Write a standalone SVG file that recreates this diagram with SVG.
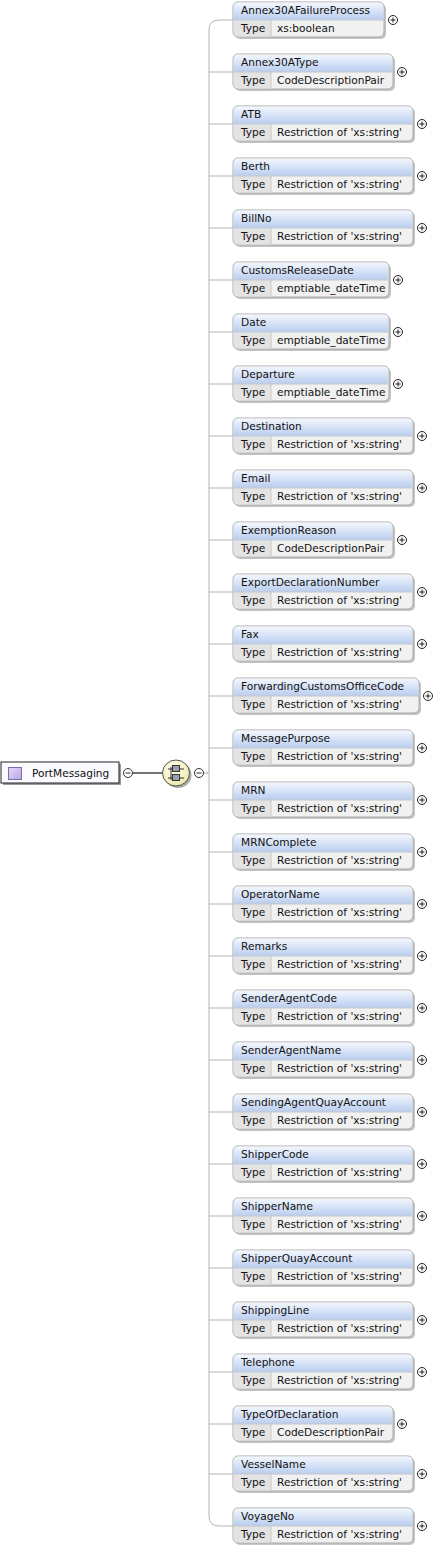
<svg xmlns="http://www.w3.org/2000/svg" width="435" height="1552" viewBox="0 0 435 1552">
<defs>
<linearGradient id="hdr" x1="0" y1="0" x2="0" y2="1">
<stop offset="0" stop-color="#f3f7fd"/>
<stop offset="1" stop-color="#b9cdef"/>
</linearGradient>
<radialGradient id="seq" cx="0.4" cy="0.35" r="0.7">
<stop offset="0" stop-color="#fffff0"/>
<stop offset="1" stop-color="#efe7a8"/>
</radialGradient>
<linearGradient id="icon" x1="0" y1="0" x2="1" y2="1">
<stop offset="0" stop-color="#e4dcf6"/>
<stop offset="1" stop-color="#b4a4e0"/>
</linearGradient>
<symbol id="plus" overflow="visible">
<circle cx="0" cy="0" r="4.5" fill="#fff" stroke="#222" stroke-width="1"/>
<path d="M-2.5 0H2.5M0 -2.5V2.5" stroke="#222" stroke-width="1"/>
</symbol>
<symbol id="minus" overflow="visible">
<circle cx="0" cy="0" r="4.5" fill="#fff" stroke="#333" stroke-width="1"/>
<path d="M-2.5 0H2.5" stroke="#333" stroke-width="1"/>
</symbol>
</defs>
<style>
text{font-family:"DejaVu Sans","Liberation Sans",Arial,sans-serif;font-size:10.6px;fill:#111}
.sh{fill:#c4c4c4}
.body{fill:#f1f1f1;stroke:#a9a9a9;stroke-width:1}
.tcol{fill:#e3e3e3}
.hd{fill:url(#hdr)}
.sep{stroke:#c8c8c8;stroke-width:1}
.conn{fill:none;stroke:#b3b3b3;stroke-width:1}
</style>

<g id="connectors">
<path class="conn" d="M204 773H209"/>
<path class="conn" d="M233 20H219Q209 20 209 30V1516Q209 1526 219 1526H233"/>
<path class="conn" d="M209 72H233M209 124H233M209 176H233M209 228H233M209 280H233M209 332H233M209 384H233M209 436H233M209 488H233M209 540H233M209 592H233M209 644H233M209 696H233M209 748H233M209 800H233M209 852H233M209 904H233M209 956H233M209 1008H233M209 1060H233M209 1112H233M209 1164H233M209 1216H233M209 1268H233M209 1320H233M209 1372H233M209 1424H233M209 1474H233"/>
<path d="M133 773H163" stroke="#444" stroke-width="1.5"/>
</g>

<g id="root">
<rect x="3" y="764" width="118" height="21" fill="#9a9a9a"/>
<rect x="1" y="762" width="118" height="21" fill="#fbfaff" stroke="#222" stroke-width="1"/>
<rect x="8.5" y="767.5" width="13" height="12" fill="url(#icon)" stroke="#7d6cb3"/>
<text x="32" y="777">PortMessaging</text>
<use href="#minus" x="128" y="773"/>
</g>

<g id="sequence">
<ellipse cx="178" cy="775" rx="13.5" ry="13" fill="#a8a8a8"/>
<ellipse cx="176" cy="773" rx="13.5" ry="13" fill="url(#seq)" stroke="#555" stroke-width="1"/>
<path d="M168 769H184M168 778H184M171 767V780" stroke="#333" stroke-width="1" fill="none"/>
<rect x="172.5" y="765.5" width="7" height="6" fill="#9aa0b0" stroke="#333"/>
<rect x="172.5" y="774.5" width="7" height="6" fill="#9aa0b0" stroke="#333"/>
<use href="#minus" x="199" y="773"/>
</g>

<g id="e0"><rect class="sh" x="235" y="4" width="151" height="35" rx="5"/><rect class="body" x="233" y="2" width="151" height="35" rx="5"/><path class="tcol" d="M233.5 20H271V36.5H238.5Q233.5 36.5 233.5 31.5Z"/><path class="hd" d="M233.5 20V7.5Q233.5 2.5 238.5 2.5H378.5Q383.5 2.5 383.5 7.5V20Z"/><path class="sep" d="M233.5 20H383.5M271 20V36.5"/><text x="241" y="14">Annex30AFailureProcess</text><text x="241" y="32">Type</text><text x="277" y="32">xs:boolean</text><use href="#plus" x="393" y="20"/></g>

<g id="e1"><rect class="sh" x="235" y="56" width="160" height="35" rx="5"/><rect class="body" x="233" y="54" width="160" height="35" rx="5"/><path class="tcol" d="M233.5 72H271V88.5H238.5Q233.5 88.5 233.5 83.5Z"/><path class="hd" d="M233.5 72V59.5Q233.5 54.5 238.5 54.5H387.5Q392.5 54.5 392.5 59.5V72Z"/><path class="sep" d="M233.5 72H392.5M271 72V88.5"/><text x="241" y="66">Annex30AType</text><text x="241" y="84">Type</text><text x="277" y="84">CodeDescriptionPair</text><use href="#plus" x="402" y="72"/></g>

<g id="e2"><rect class="sh" x="235" y="108" width="180" height="35" rx="5"/><rect class="body" x="233" y="106" width="180" height="35" rx="5"/><path class="tcol" d="M233.5 124H271V140.5H238.5Q233.5 140.5 233.5 135.5Z"/><path class="hd" d="M233.5 124V111.5Q233.5 106.5 238.5 106.5H407.5Q412.5 106.5 412.5 111.5V124Z"/><path class="sep" d="M233.5 124H412.5M271 124V140.5"/><text x="241" y="118">ATB</text><text x="241" y="136">Type</text><text x="277" y="136">Restriction of 'xs:string'</text><use href="#plus" x="422" y="124"/></g>

<g id="e3"><rect class="sh" x="235" y="160" width="180" height="35" rx="5"/><rect class="body" x="233" y="158" width="180" height="35" rx="5"/><path class="tcol" d="M233.5 176H271V192.5H238.5Q233.5 192.5 233.5 187.5Z"/><path class="hd" d="M233.5 176V163.5Q233.5 158.5 238.5 158.5H407.5Q412.5 158.5 412.5 163.5V176Z"/><path class="sep" d="M233.5 176H412.5M271 176V192.5"/><text x="241" y="170">Berth</text><text x="241" y="188">Type</text><text x="277" y="188">Restriction of 'xs:string'</text><use href="#plus" x="422" y="176"/></g>

<g id="e4"><rect class="sh" x="235" y="212" width="180" height="35" rx="5"/><rect class="body" x="233" y="210" width="180" height="35" rx="5"/><path class="tcol" d="M233.5 228H271V244.5H238.5Q233.5 244.5 233.5 239.5Z"/><path class="hd" d="M233.5 228V215.5Q233.5 210.5 238.5 210.5H407.5Q412.5 210.5 412.5 215.5V228Z"/><path class="sep" d="M233.5 228H412.5M271 228V244.5"/><text x="241" y="222">BillNo</text><text x="241" y="240">Type</text><text x="277" y="240">Restriction of 'xs:string'</text><use href="#plus" x="422" y="228"/></g>

<g id="e5"><rect class="sh" x="235" y="264" width="156" height="35" rx="5"/><rect class="body" x="233" y="262" width="156" height="35" rx="5"/><path class="tcol" d="M233.5 280H271V296.5H238.5Q233.5 296.5 233.5 291.5Z"/><path class="hd" d="M233.5 280V267.5Q233.5 262.5 238.5 262.5H383.5Q388.5 262.5 388.5 267.5V280Z"/><path class="sep" d="M233.5 280H388.5M271 280V296.5"/><text x="241" y="274">CustomsReleaseDate</text><text x="241" y="292">Type</text><text x="277" y="292">emptiable_dateTime</text><use href="#plus" x="398" y="280"/></g>

<g id="e6"><rect class="sh" x="235" y="316" width="156" height="35" rx="5"/><rect class="body" x="233" y="314" width="156" height="35" rx="5"/><path class="tcol" d="M233.5 332H271V348.5H238.5Q233.5 348.5 233.5 343.5Z"/><path class="hd" d="M233.5 332V319.5Q233.5 314.5 238.5 314.5H383.5Q388.5 314.5 388.5 319.5V332Z"/><path class="sep" d="M233.5 332H388.5M271 332V348.5"/><text x="241" y="326">Date</text><text x="241" y="344">Type</text><text x="277" y="344">emptiable_dateTime</text><use href="#plus" x="398" y="332"/></g>

<g id="e7"><rect class="sh" x="235" y="368" width="156" height="35" rx="5"/><rect class="body" x="233" y="366" width="156" height="35" rx="5"/><path class="tcol" d="M233.5 384H271V400.5H238.5Q233.5 400.5 233.5 395.5Z"/><path class="hd" d="M233.5 384V371.5Q233.5 366.5 238.5 366.5H383.5Q388.5 366.5 388.5 371.5V384Z"/><path class="sep" d="M233.5 384H388.5M271 384V400.5"/><text x="241" y="378">Departure</text><text x="241" y="396">Type</text><text x="277" y="396">emptiable_dateTime</text><use href="#plus" x="398" y="384"/></g>

<g id="e8"><rect class="sh" x="235" y="420" width="180" height="35" rx="5"/><rect class="body" x="233" y="418" width="180" height="35" rx="5"/><path class="tcol" d="M233.5 436H271V452.5H238.5Q233.5 452.5 233.5 447.5Z"/><path class="hd" d="M233.5 436V423.5Q233.5 418.5 238.5 418.5H407.5Q412.5 418.5 412.5 423.5V436Z"/><path class="sep" d="M233.5 436H412.5M271 436V452.5"/><text x="241" y="430">Destination</text><text x="241" y="448">Type</text><text x="277" y="448">Restriction of 'xs:string'</text><use href="#plus" x="422" y="436"/></g>

<g id="e9"><rect class="sh" x="235" y="472" width="180" height="35" rx="5"/><rect class="body" x="233" y="470" width="180" height="35" rx="5"/><path class="tcol" d="M233.5 488H271V504.5H238.5Q233.5 504.5 233.5 499.5Z"/><path class="hd" d="M233.5 488V475.5Q233.5 470.5 238.5 470.5H407.5Q412.5 470.5 412.5 475.5V488Z"/><path class="sep" d="M233.5 488H412.5M271 488V504.5"/><text x="241" y="482">Email</text><text x="241" y="500">Type</text><text x="277" y="500">Restriction of 'xs:string'</text><use href="#plus" x="422" y="488"/></g>

<g id="e10"><rect class="sh" x="235" y="524" width="160" height="35" rx="5"/><rect class="body" x="233" y="522" width="160" height="35" rx="5"/><path class="tcol" d="M233.5 540H271V556.5H238.5Q233.5 556.5 233.5 551.5Z"/><path class="hd" d="M233.5 540V527.5Q233.5 522.5 238.5 522.5H387.5Q392.5 522.5 392.5 527.5V540Z"/><path class="sep" d="M233.5 540H392.5M271 540V556.5"/><text x="241" y="534">ExemptionReason</text><text x="241" y="552">Type</text><text x="277" y="552">CodeDescriptionPair</text><use href="#plus" x="402" y="540"/></g>

<g id="e11"><rect class="sh" x="235" y="576" width="180" height="35" rx="5"/><rect class="body" x="233" y="574" width="180" height="35" rx="5"/><path class="tcol" d="M233.5 592H271V608.5H238.5Q233.5 608.5 233.5 603.5Z"/><path class="hd" d="M233.5 592V579.5Q233.5 574.5 238.5 574.5H407.5Q412.5 574.5 412.5 579.5V592Z"/><path class="sep" d="M233.5 592H412.5M271 592V608.5"/><text x="241" y="586">ExportDeclarationNumber</text><text x="241" y="604">Type</text><text x="277" y="604">Restriction of 'xs:string'</text><use href="#plus" x="422" y="592"/></g>

<g id="e12"><rect class="sh" x="235" y="628" width="180" height="35" rx="5"/><rect class="body" x="233" y="626" width="180" height="35" rx="5"/><path class="tcol" d="M233.5 644H271V660.5H238.5Q233.5 660.5 233.5 655.5Z"/><path class="hd" d="M233.5 644V631.5Q233.5 626.5 238.5 626.5H407.5Q412.5 626.5 412.5 631.5V644Z"/><path class="sep" d="M233.5 644H412.5M271 644V660.5"/><text x="241" y="638">Fax</text><text x="241" y="656">Type</text><text x="277" y="656">Restriction of 'xs:string'</text><use href="#plus" x="422" y="644"/></g>

<g id="e13"><rect class="sh" x="235" y="680" width="186" height="35" rx="5"/><rect class="body" x="233" y="678" width="186" height="35" rx="5"/><path class="tcol" d="M233.5 696H271V712.5H238.5Q233.5 712.5 233.5 707.5Z"/><path class="hd" d="M233.5 696V683.5Q233.5 678.5 238.5 678.5H413.5Q418.5 678.5 418.5 683.5V696Z"/><path class="sep" d="M233.5 696H418.5M271 696V712.5"/><text x="241" y="690">ForwardingCustomsOfficeCode</text><text x="241" y="708">Type</text><text x="277" y="708">Restriction of 'xs:string'</text><use href="#plus" x="428" y="696"/></g>

<g id="e14"><rect class="sh" x="235" y="732" width="180" height="35" rx="5"/><rect class="body" x="233" y="730" width="180" height="35" rx="5"/><path class="tcol" d="M233.5 748H271V764.5H238.5Q233.5 764.5 233.5 759.5Z"/><path class="hd" d="M233.5 748V735.5Q233.5 730.5 238.5 730.5H407.5Q412.5 730.5 412.5 735.5V748Z"/><path class="sep" d="M233.5 748H412.5M271 748V764.5"/><text x="241" y="742">MessagePurpose</text><text x="241" y="760">Type</text><text x="277" y="760">Restriction of 'xs:string'</text><use href="#plus" x="422" y="748"/></g>

<g id="e15"><rect class="sh" x="235" y="784" width="180" height="35" rx="5"/><rect class="body" x="233" y="782" width="180" height="35" rx="5"/><path class="tcol" d="M233.5 800H271V816.5H238.5Q233.5 816.5 233.5 811.5Z"/><path class="hd" d="M233.5 800V787.5Q233.5 782.5 238.5 782.5H407.5Q412.5 782.5 412.5 787.5V800Z"/><path class="sep" d="M233.5 800H412.5M271 800V816.5"/><text x="241" y="794">MRN</text><text x="241" y="812">Type</text><text x="277" y="812">Restriction of 'xs:string'</text><use href="#plus" x="422" y="800"/></g>

<g id="e16"><rect class="sh" x="235" y="836" width="180" height="35" rx="5"/><rect class="body" x="233" y="834" width="180" height="35" rx="5"/><path class="tcol" d="M233.5 852H271V868.5H238.5Q233.5 868.5 233.5 863.5Z"/><path class="hd" d="M233.5 852V839.5Q233.5 834.5 238.5 834.5H407.5Q412.5 834.5 412.5 839.5V852Z"/><path class="sep" d="M233.5 852H412.5M271 852V868.5"/><text x="241" y="846">MRNComplete</text><text x="241" y="864">Type</text><text x="277" y="864">Restriction of 'xs:string'</text><use href="#plus" x="422" y="852"/></g>

<g id="e17"><rect class="sh" x="235" y="888" width="180" height="35" rx="5"/><rect class="body" x="233" y="886" width="180" height="35" rx="5"/><path class="tcol" d="M233.5 904H271V920.5H238.5Q233.5 920.5 233.5 915.5Z"/><path class="hd" d="M233.5 904V891.5Q233.5 886.5 238.5 886.5H407.5Q412.5 886.5 412.5 891.5V904Z"/><path class="sep" d="M233.5 904H412.5M271 904V920.5"/><text x="241" y="898">OperatorName</text><text x="241" y="916">Type</text><text x="277" y="916">Restriction of 'xs:string'</text><use href="#plus" x="422" y="904"/></g>

<g id="e18"><rect class="sh" x="235" y="940" width="180" height="35" rx="5"/><rect class="body" x="233" y="938" width="180" height="35" rx="5"/><path class="tcol" d="M233.5 956H271V972.5H238.5Q233.5 972.5 233.5 967.5Z"/><path class="hd" d="M233.5 956V943.5Q233.5 938.5 238.5 938.5H407.5Q412.5 938.5 412.5 943.5V956Z"/><path class="sep" d="M233.5 956H412.5M271 956V972.5"/><text x="241" y="950">Remarks</text><text x="241" y="968">Type</text><text x="277" y="968">Restriction of 'xs:string'</text><use href="#plus" x="422" y="956"/></g>

<g id="e19"><rect class="sh" x="235" y="992" width="180" height="35" rx="5"/><rect class="body" x="233" y="990" width="180" height="35" rx="5"/><path class="tcol" d="M233.5 1008H271V1024.5H238.5Q233.5 1024.5 233.5 1019.5Z"/><path class="hd" d="M233.5 1008V995.5Q233.5 990.5 238.5 990.5H407.5Q412.5 990.5 412.5 995.5V1008Z"/><path class="sep" d="M233.5 1008H412.5M271 1008V1024.5"/><text x="241" y="1002">SenderAgentCode</text><text x="241" y="1020">Type</text><text x="277" y="1020">Restriction of 'xs:string'</text><use href="#plus" x="422" y="1008"/></g>

<g id="e20"><rect class="sh" x="235" y="1044" width="180" height="35" rx="5"/><rect class="body" x="233" y="1042" width="180" height="35" rx="5"/><path class="tcol" d="M233.5 1060H271V1076.5H238.5Q233.5 1076.5 233.5 1071.5Z"/><path class="hd" d="M233.5 1060V1047.5Q233.5 1042.5 238.5 1042.5H407.5Q412.5 1042.5 412.5 1047.5V1060Z"/><path class="sep" d="M233.5 1060H412.5M271 1060V1076.5"/><text x="241" y="1054">SenderAgentName</text><text x="241" y="1072">Type</text><text x="277" y="1072">Restriction of 'xs:string'</text><use href="#plus" x="422" y="1060"/></g>

<g id="e21"><rect class="sh" x="235" y="1096" width="180" height="35" rx="5"/><rect class="body" x="233" y="1094" width="180" height="35" rx="5"/><path class="tcol" d="M233.5 1112H271V1128.5H238.5Q233.5 1128.5 233.5 1123.5Z"/><path class="hd" d="M233.5 1112V1099.5Q233.5 1094.5 238.5 1094.5H407.5Q412.5 1094.5 412.5 1099.5V1112Z"/><path class="sep" d="M233.5 1112H412.5M271 1112V1128.5"/><text x="241" y="1106">SendingAgentQuayAccount</text><text x="241" y="1124">Type</text><text x="277" y="1124">Restriction of 'xs:string'</text><use href="#plus" x="422" y="1112"/></g>

<g id="e22"><rect class="sh" x="235" y="1148" width="180" height="35" rx="5"/><rect class="body" x="233" y="1146" width="180" height="35" rx="5"/><path class="tcol" d="M233.5 1164H271V1180.5H238.5Q233.5 1180.5 233.5 1175.5Z"/><path class="hd" d="M233.5 1164V1151.5Q233.5 1146.5 238.5 1146.5H407.5Q412.5 1146.5 412.5 1151.5V1164Z"/><path class="sep" d="M233.5 1164H412.5M271 1164V1180.5"/><text x="241" y="1158">ShipperCode</text><text x="241" y="1176">Type</text><text x="277" y="1176">Restriction of 'xs:string'</text><use href="#plus" x="422" y="1164"/></g>

<g id="e23"><rect class="sh" x="235" y="1200" width="180" height="35" rx="5"/><rect class="body" x="233" y="1198" width="180" height="35" rx="5"/><path class="tcol" d="M233.5 1216H271V1232.5H238.5Q233.5 1232.5 233.5 1227.5Z"/><path class="hd" d="M233.5 1216V1203.5Q233.5 1198.5 238.5 1198.5H407.5Q412.5 1198.5 412.5 1203.5V1216Z"/><path class="sep" d="M233.5 1216H412.5M271 1216V1232.5"/><text x="241" y="1210">ShipperName</text><text x="241" y="1228">Type</text><text x="277" y="1228">Restriction of 'xs:string'</text><use href="#plus" x="422" y="1216"/></g>

<g id="e24"><rect class="sh" x="235" y="1252" width="180" height="35" rx="5"/><rect class="body" x="233" y="1250" width="180" height="35" rx="5"/><path class="tcol" d="M233.5 1268H271V1284.5H238.5Q233.5 1284.5 233.5 1279.5Z"/><path class="hd" d="M233.5 1268V1255.5Q233.5 1250.5 238.5 1250.5H407.5Q412.5 1250.5 412.5 1255.5V1268Z"/><path class="sep" d="M233.5 1268H412.5M271 1268V1284.5"/><text x="241" y="1262">ShipperQuayAccount</text><text x="241" y="1280">Type</text><text x="277" y="1280">Restriction of 'xs:string'</text><use href="#plus" x="422" y="1268"/></g>

<g id="e25"><rect class="sh" x="235" y="1304" width="180" height="35" rx="5"/><rect class="body" x="233" y="1302" width="180" height="35" rx="5"/><path class="tcol" d="M233.5 1320H271V1336.5H238.5Q233.5 1336.5 233.5 1331.5Z"/><path class="hd" d="M233.5 1320V1307.5Q233.5 1302.5 238.5 1302.5H407.5Q412.5 1302.5 412.5 1307.5V1320Z"/><path class="sep" d="M233.5 1320H412.5M271 1320V1336.5"/><text x="241" y="1314">ShippingLine</text><text x="241" y="1332">Type</text><text x="277" y="1332">Restriction of 'xs:string'</text><use href="#plus" x="422" y="1320"/></g>

<g id="e26"><rect class="sh" x="235" y="1356" width="180" height="35" rx="5"/><rect class="body" x="233" y="1354" width="180" height="35" rx="5"/><path class="tcol" d="M233.5 1372H271V1388.5H238.5Q233.5 1388.5 233.5 1383.5Z"/><path class="hd" d="M233.5 1372V1359.5Q233.5 1354.5 238.5 1354.5H407.5Q412.5 1354.5 412.5 1359.5V1372Z"/><path class="sep" d="M233.5 1372H412.5M271 1372V1388.5"/><text x="241" y="1366">Telephone</text><text x="241" y="1384">Type</text><text x="277" y="1384">Restriction of 'xs:string'</text><use href="#plus" x="422" y="1372"/></g>

<g id="e27"><rect class="sh" x="235" y="1408" width="160" height="35" rx="5"/><rect class="body" x="233" y="1406" width="160" height="35" rx="5"/><path class="tcol" d="M233.5 1424H271V1440.5H238.5Q233.5 1440.5 233.5 1435.5Z"/><path class="hd" d="M233.5 1424V1411.5Q233.5 1406.5 238.5 1406.5H387.5Q392.5 1406.5 392.5 1411.5V1424Z"/><path class="sep" d="M233.5 1424H392.5M271 1424V1440.5"/><text x="241" y="1418">TypeOfDeclaration</text><text x="241" y="1436">Type</text><text x="277" y="1436">CodeDescriptionPair</text><use href="#plus" x="402" y="1424"/></g>

<g id="e28"><rect class="sh" x="235" y="1458" width="180" height="35" rx="5"/><rect class="body" x="233" y="1456" width="180" height="35" rx="5"/><path class="tcol" d="M233.5 1474H271V1490.5H238.5Q233.5 1490.5 233.5 1485.5Z"/><path class="hd" d="M233.5 1474V1461.5Q233.5 1456.5 238.5 1456.5H407.5Q412.5 1456.5 412.5 1461.5V1474Z"/><path class="sep" d="M233.5 1474H412.5M271 1474V1490.5"/><text x="241" y="1468">VesselName</text><text x="241" y="1486">Type</text><text x="277" y="1486">Restriction of 'xs:string'</text><use href="#plus" x="422" y="1474"/></g>

<g id="e29"><rect class="sh" x="235" y="1510" width="180" height="35" rx="5"/><rect class="body" x="233" y="1508" width="180" height="35" rx="5"/><path class="tcol" d="M233.5 1526H271V1542.5H238.5Q233.5 1542.5 233.5 1537.5Z"/><path class="hd" d="M233.5 1526V1513.5Q233.5 1508.5 238.5 1508.5H407.5Q412.5 1508.5 412.5 1513.5V1526Z"/><path class="sep" d="M233.5 1526H412.5M271 1526V1542.5"/><text x="241" y="1520">VoyageNo</text><text x="241" y="1538">Type</text><text x="277" y="1538">Restriction of 'xs:string'</text><use href="#plus" x="422" y="1526"/></g>
</svg>
